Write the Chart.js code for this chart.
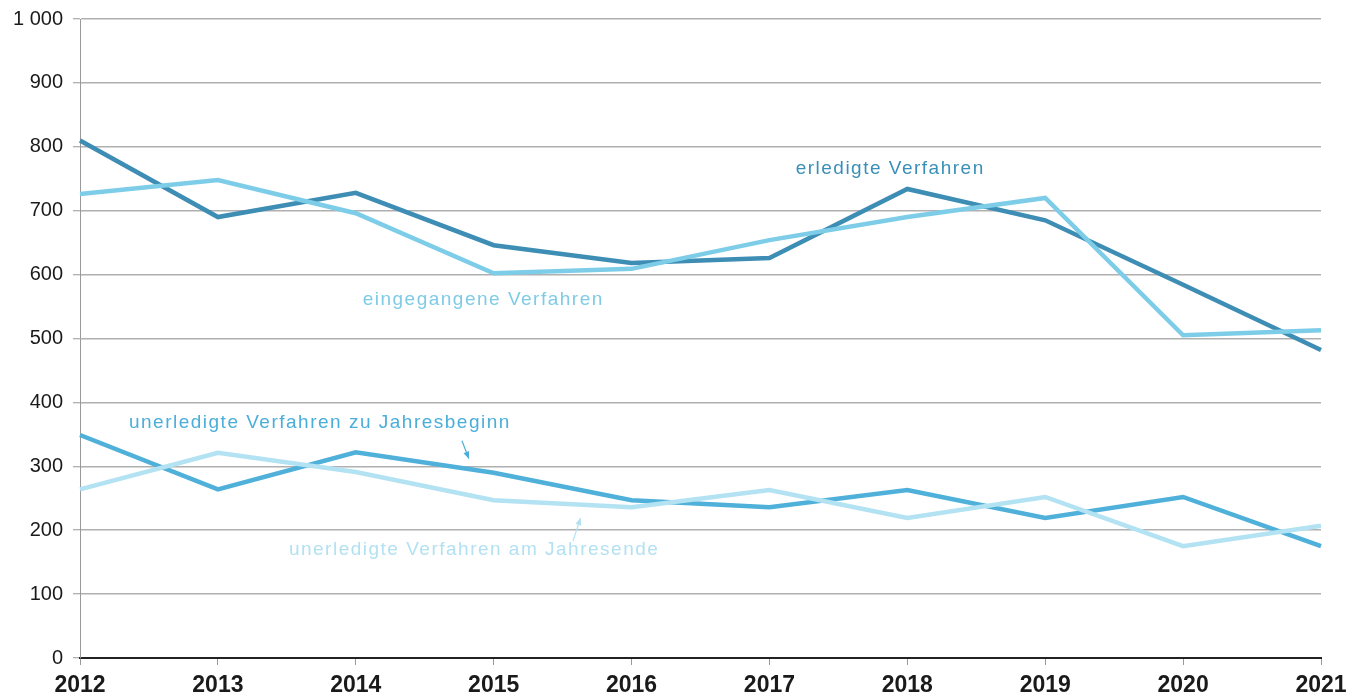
<!DOCTYPE html>
<html><head><meta charset="utf-8">
<script src="https://cdn.jsdelivr.net/npm/chart.js@4/dist/chart.umd.min.js"></script>
<style>html,body{margin:0;padding:0;background:#fff}#wrap{width:1365px;height:697px}</style>
</head><body><div id="wrap"><canvas id="c" width="1365" height="697"></canvas></div>
<script>
const years = ['2012','2013','2014','2015','2016','2017','2018','2019','2020','2021'];
const erledigte = [810, 690, 728, 646, 618, 626, 734, 685, 584, 482];
const eingegangene = [726, 748, 696, 602, 609, 654, 690, 720, 505, 513];
const unerledigtBeginn = [349, 264, 322, 290, 247, 236, 263, 219, 252, 175];
const unerledigtEnde = [264, 321, 291, 247, 236, 263, 219, 252, 175, 207];
const yTicks = [0,100,200,300,400,500,600,700,800,900,1000];

const labels = [
  {text:'erledigte Verfahren', x:5.19, y:765, color:'#3a8fb7'},
  {text:'eingegangene Verfahren', x:2.05, y:560, color:'#7fcbe6'},
  {text:'unerledigte Verfahren zu Jahresbeginn', x:0.355, y:368, color:'#4aaed9'},
  {text:'unerledigte Verfahren am Jahresende', x:1.515, y:170, color:'#b3e1f2'}
];
const arrows = [
  {x1:2.77, y1:340, x2:2.82, y2:312, color:'#4aaed9'},
  {x1:3.575, y1:183, x2:3.63, y2:219, color:'#b3e1f2'}
];

const annot = {
  id:'annot',
  afterDatasetsDraw(chart){
    const ctx = chart.ctx, xs = chart.scales.x, ys = chart.scales.y;
    ctx.save();
    ctx.font = '19px "Liberation Sans", Arial, sans-serif';
    ctx.letterSpacing = '1.5px';
    ctx.textBaseline = 'middle'; ctx.textAlign = 'left';
    labels.forEach(l=>{ ctx.fillStyle = l.color; ctx.fillText(l.text, xs.getPixelForValue(l.x), ys.getPixelForValue(l.y)); });
    arrows.forEach(a=>{
      const x1=xs.getPixelForValue(a.x1), y1=ys.getPixelForValue(a.y1), x2=xs.getPixelForValue(a.x2), y2=ys.getPixelForValue(a.y2);
      ctx.strokeStyle=a.color; ctx.fillStyle=a.color; ctx.lineWidth=1.2;
      ctx.beginPath(); ctx.moveTo(x1,y1); ctx.lineTo(x2,y2); ctx.stroke();
      const ang=Math.atan2(y2-y1,x2-x1), L=7, W=3;
      ctx.beginPath(); ctx.moveTo(x2,y2);
      ctx.lineTo(x2-L*Math.cos(ang)+W*Math.sin(ang), y2-L*Math.sin(ang)-W*Math.cos(ang));
      ctx.lineTo(x2-L*Math.cos(ang)-W*Math.sin(ang), y2-L*Math.sin(ang)+W*Math.cos(ang));
      ctx.closePath(); ctx.fill();
    });
    ctx.restore();
  }
};

const ds = (label, data, color) => ({label, data, borderColor:color, backgroundColor:color, borderWidth:4.5, pointRadius:0, tension:0, fill:false, borderJoinStyle:'miter'});

new Chart(document.getElementById('c'), {
  type:'line',
  data:{ labels: years, datasets:[
    ds('unerledigte Verfahren am Jahresende', unerledigtEnde, '#b3e2f3'),
    ds('unerledigte Verfahren zu Jahresbeginn', unerledigtBeginn, '#4fb0da'),
    ds('eingegangene Verfahren', eingegangene, '#7ecde8'),
    ds('erledigte Verfahren', erledigte, '#3d8db4')
  ]},
  options:{
    responsive:false, animation:false,
    layout:{padding:{top:19, right:44, left:0, bottom:0}},
    plugins:{legend:{display:false}, tooltip:{enabled:false}},
    scales:{
      x:{
        type:'category', offset:false,
        grid:{drawOnChartArea:false, drawTicks:true, tickLength:7, color:'#999', lineWidth:1},
        border:{display:true, color:'#222', width:2},
        ticks:{color:'#1a1a1a', font:{family:'"Liberation Sans", Arial, sans-serif', size:23, weight:'bold'}, padding:7, maxRotation:0, autoSkip:false},
        afterFit(s){ s.height = 39; s.paddingLeft = 0; s.paddingRight = 0; }
      },
      y:{
        min:0, max:1000,
        afterBuildTicks(s){ s.ticks = yTicks.map(v=>({value:v})); },
        grid:{color:'#b0b0b0', lineWidth:1.5, drawTicks:true, tickLength:7, tickColor:'#999', tickWidth:1},
        border:{display:true, color:'#999', width:1},
        ticks:{color:'#1a1a1a', font:{family:'"Liberation Sans", Arial, sans-serif', size:20}, padding:10,
          callback(v){ return v>=1000 ? String(v).replace(/\B(?=(\d{3})+(?!\d))/g,' ') : String(v); }},
        afterFit(s){ s.width = 80; s.paddingTop = 0; s.paddingBottom = 0; }
      }
    }
  },
  plugins:[annot]
});
</script></body></html>
